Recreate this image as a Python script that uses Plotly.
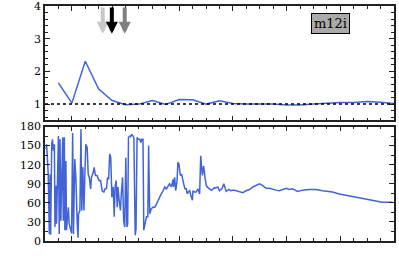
import plotly.graph_objects as go
from plotly.subplots import make_subplots

# top panel: ratio series
t_top = [0.5, 1.0, 1.5, 2.0, 2.5, 3.0, 3.5, 4.0, 4.5, 5.0, 5.5, 6.0, 6.5,
         7.0, 7.5, 8.0, 8.5, 9.0, 9.5, 10.0, 10.5, 11.0, 11.5, 12.0, 12.5, 13.0]
ratio = [1.65, 1.03, 2.31, 1.46, 1.11, 0.98, 1.0, 1.11, 0.99, 1.14, 1.13, 1.0, 1.1,
         1.02, 1.0, 1.0, 1.0, 0.97, 0.97, 1.0, 1.03, 1.05, 1.05, 1.08, 1.06, 1.02]

# bottom panel: angle series
t_bot = [0.04, 0.06, 0.12, 0.16, 0.19, 0.21, 0.25, 0.28, 0.31, 0.35, 0.37, 0.41, 0.43,
         0.46, 0.50, 0.53, 0.56, 0.59, 0.62, 0.66, 0.68, 0.72, 0.74, 0.78, 0.80, 0.87,
         0.90, 0.95, 0.99, 1.03, 1.06, 1.11, 1.15, 1.20, 1.23, 1.25, 1.30, 1.34, 1.37,
         1.41, 1.45, 1.49, 1.52, 1.57, 1.61, 1.65, 1.70, 1.73, 1.80, 1.83, 1.88, 1.94,
         2.01, 2.07, 2.13, 2.19, 2.24, 2.29, 2.33, 2.37, 2.41, 2.45, 2.49, 2.54, 2.58,
         2.61, 2.65, 2.69, 2.72, 2.76, 2.81, 2.85, 2.89, 2.93, 2.97, 3.01, 3.05, 3.08,
         3.11, 3.15, 3.19, 3.23, 3.27, 3.31, 3.36, 3.39, 3.43, 3.47, 3.53, 3.57, 3.60,
         3.65, 3.68, 3.73, 3.78, 3.83, 3.86, 3.90, 3.96, 4.02, 4.09, 4.15, 4.21, 4.27,
         4.33, 4.40, 4.46, 4.52, 4.58, 4.64, 4.71, 4.77, 4.79, 4.83, 4.87, 4.92, 4.95,
         4.99, 5.04, 5.09, 5.14, 5.18, 5.21, 5.26, 5.30, 5.34, 5.39, 5.45, 5.49, 5.51,
         5.57, 5.63, 5.70, 5.76, 5.80, 5.86, 5.91, 5.96, 6.01, 6.07, 6.13, 6.19, 6.25,
         6.30, 6.35, 6.44, 6.50, 6.60, 6.66, 6.75, 6.85, 6.93, 7.03, 7.12, 7.24, 7.37,
         7.49, 7.62, 7.74, 7.86, 7.99, 8.11, 8.23, 8.36, 8.48, 8.60, 8.73, 8.85, 8.98,
         9.10, 9.22, 9.41, 9.60, 9.84, 10.09, 10.34, 10.71, 10.96, 11.21, 11.58, 11.95,
         12.32, 12.57, 12.94]
angle = [145, 152, 105, 11, 105, 10, 152, 160, 142, 152, 22, 87, 27,
         85, 165, 11, 160, 32, 100, 163, 32, 163, 17, 126, 17, 53,
         27, 17, 12, 170, 11, 129, 100, 27, 5, 43, 48, 176, 48,
         116, 48, 111, 152, 147, 105, 100, 82, 100, 108, 116, 103, 103,
         95, 95, 79, 77, 82, 82, 100, 97, 137, 131, 69, 85, 38,
         85, 95, 53, 85, 64, 48, 79, 100, 32, 22, 131, 22, 27,
         163, 165, 164, 168, 165, 163, 9, 19, 163, 160, 160, 155, 160,
         160, 17, 27, 38, 38, 150, 43, 51, 53, 53, 58, 64, 69,
         74, 79, 85, 82, 87, 90, 85, 97, 85, 100, 79, 95, 124,
         121, 103, 105, 95, 85, 82, 82, 74, 77, 79, 69, 64, 79,
         77, 77, 82, 74, 134, 103, 118, 100, 87, 84, 82, 80, 81,
         84, 83, 85, 79, 83, 90, 78, 81, 79, 80, 79, 78, 76,
         79, 81, 85, 87, 90, 87, 83, 83, 81, 80, 79, 81, 83,
         81, 82, 78, 80, 81, 81, 79, 77, 74, 72, 69, 66,
         62, 61, 61]

arrow_t = [2.15, 2.49, 2.97]
arrow_colors = ["#c8c8c8", "#000000", "#808080"]
label = "m12i"

blue = "#4364d8"
font = "DejaVu Serif"

fig = make_subplots(rows=2, cols=1, shared_xaxes=True, vertical_spacing=0.025)
fig.add_trace(go.Scatter(x=t_top, y=ratio, mode="lines", line=dict(color=blue, width=1.5)), row=1, col=1)
fig.add_trace(go.Scatter(x=t_bot, y=angle, mode="lines", line=dict(color=blue, width=1.5)), row=2, col=1)

fig.add_hline(y=1, line=dict(color="black", width=1.5, dash="dot"), row=1, col=1)

for t, c in zip(arrow_t, arrow_colors):
    fig.add_annotation(x=t, y=3.15, ax=t, ay=4.0, xref="x", yref="y", axref="x", ayref="y",
                       showarrow=True, arrowhead=2, arrowsize=0.6, arrowwidth=4, arrowcolor=c, text="")

fig.add_annotation(x=10.62, y=3.45, xref="x", yref="y", text=label, showarrow=False,
                   bgcolor="#aaaaaa", bordercolor="black", borderwidth=1, borderpad=2,
                   font=dict(family=font, size=13, color="black"))

axis_style = dict(showline=True, linecolor="#222", linewidth=1.5, mirror="allticks", automargin=False,
                  ticks="inside", ticklen=5, tickcolor="#222", showgrid=False, zeroline=False)
fig.update_xaxes(range=[0, 13], tick0=1, dtick=2, showticklabels=False,
                 minor=dict(ticks="inside", ticklen=3, dtick=0.5, tickcolor="#222"), **axis_style)
fig.update_yaxes(range=[0.5, 4], dtick=1, tick0=1, ticklabeloverflow="allow",
                 minor=dict(ticks="inside", ticklen=3, dtick=0.2, tickcolor="#222"),
                 row=1, col=1, **axis_style)
fig.update_yaxes(range=[0, 180], dtick=30, ticklabeloverflow="allow",
                 minor=dict(ticks="inside", ticklen=3, dtick=15, tickcolor="#222"),
                 row=2, col=1, **axis_style)

fig.update_layout(width=399, height=277, margin=dict(l=45, r=5, t=6, b=36),
                  plot_bgcolor="white", paper_bgcolor="white", showlegend=False,
                  font=dict(family=font, size=11, color="black"))
fig.update_layout(yaxis=dict(domain=[0.513, 1.0]), yaxis2=dict(domain=[0.0, 0.487]))

fig.write_html("out.html", config={"displayModeBar": False},
               post_script="document.body.style.margin='0';")
